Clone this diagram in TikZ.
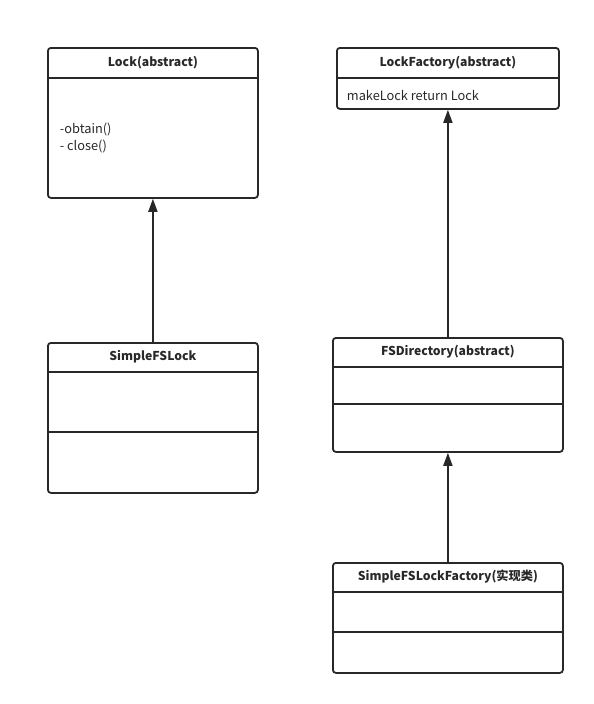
\documentclass[tikz,border=0pt]{standalone}
\usepackage{fontspec}
\setmainfont{Noto Sans CJK SC}
\usetikzlibrary{arrows.meta,positioning}
\definecolor{umlgray}{RGB}{40,40,40}

\begin{document}
\begin{tikzpicture}[x=1pt,y=-1pt,->,>={Triangle[length=13pt,width=9pt]},
                    line width=1.8pt,draw=umlgray,text=umlgray]
  \tikzstyle{umlbox}=[draw=umlgray,rectangle,rounded corners=3pt,inner sep=0pt,
                      anchor=north west]
  \tikzstyle{title}=[font=\fontsize{12.2}{14}\selectfont\bfseries,anchor=center]
  \tikzstyle{member}=[font=\fontsize{12.8}{17}\selectfont,align=left,anchor=west,inner sep=0pt]
  \tikzstyle{sep}=[-,draw=umlgray]

  \useasboundingbox (0,0) rectangle (594,704);

  \node[umlbox,minimum width=210pt,minimum height=150pt] (lock)    at (47,47)   {};
  \node[umlbox,minimum width=222pt,minimum height=61pt]  (factory) at (336,47)  {};
  \node[umlbox,minimum width=210pt,minimum height=150pt] (fslock)  at (47,342)  {};
  \node[umlbox,minimum width=230pt,minimum height=114pt] (fsdir)   at (332,337) {};
  \node[umlbox,minimum width=230pt,minimum height=110pt] (fsfact)  at (332,562) {};

  % class names
  \node[title] (lockT)    at ([yshift=-16pt]lock.north)    {Lock(abstract)};
  \node[title] (factoryT) at ([yshift=-16pt]factory.north) {LockFactory(abstract)};
  \node[title] (fslockT)  at ([yshift=-15pt]fslock.north)  {SimpleFSLock};
  \node[title] (fsdirT)   at ([yshift=-15pt]fsdir.north)   {FSDirectory(abstract)};
  \node[title] (fsfactT)  at ([yshift=-15pt]fsfact.north)  {SimpleFSLockFactory(实现类)};

  % members
  \node[member] (lockM)    at ([xshift=12pt,yshift=-91pt]lock.north west)    {-obtain()\\- close()};
  \node[member] (factoryM) at ([xshift=10pt,yshift=-48pt]factory.north west) {makeLock return Lock};

  % compartments
  \draw[sep] ([yshift=-31pt]lock.north west)    -- ([yshift=-31pt]lock.north east);
  \draw[sep] ([yshift=-31pt]factory.north west) -- ([yshift=-31pt]factory.north east);
  \draw[sep] ([yshift=-30pt]fslock.north west)  -- ([yshift=-30pt]fslock.north east);
  \draw[sep] ([yshift=-90pt]fslock.north west)  -- ([yshift=-90pt]fslock.north east);
  \draw[sep] ([yshift=-30pt]fsdir.north west)   -- ([yshift=-30pt]fsdir.north east);
  \draw[sep] ([yshift=-67pt]fsdir.north west)   -- ([yshift=-67pt]fsdir.north east);
  \draw[sep] ([yshift=-30pt]fsfact.north west)  -- ([yshift=-30pt]fsfact.north east);
  \draw[sep] ([yshift=-70pt]fsfact.north west)  -- ([yshift=-70pt]fsfact.north east);

  % inheritance
  \draw[umlgray,line width=1.8pt]
        (fslock) edge (lock)
        (fsdir)  edge (factory)
        (fsfact) edge (fsdir);
\end{tikzpicture}
\end{document}
